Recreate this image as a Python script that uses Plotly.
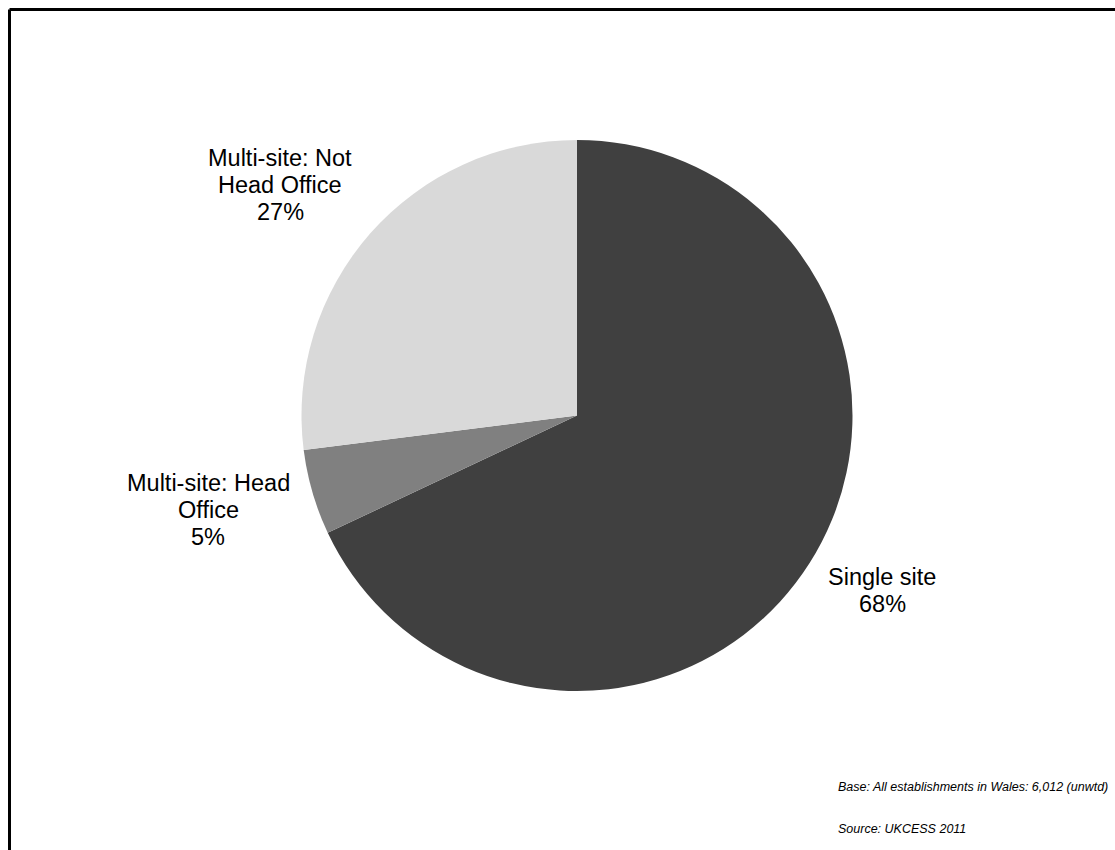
import plotly.graph_objects as go

# Establishment type breakdown
categories = ["Single site", "Multi-site: Head Office", "Multi-site: Not Head Office"]
shares = [68, 5, 27]
label_lines = [["Single site"], ["Multi-site: Head", "Office"], ["Multi-site: Not", "Head Office"]]
colors = ["#404040", "#808080", "#d9d9d9"]

base_note = "Base: All establishments in Wales: 6,012 (unwtd)"
source_note = "Source: UKCESS 2011"

W, H = 1115, 850
cx, cy, r = 577, 415.5, 275.5

fig = go.Figure(go.Pie(
    labels=categories,
    values=shares,
    sort=False,
    direction="clockwise",
    rotation=0,
    marker=dict(colors=colors, line=dict(width=0)),
    textinfo="none",
    hoverinfo="label+percent",
    showlegend=False,
    domain=dict(x=[(cx - r) / W, (cx + r) / W], y=[1 - (cy + r) / H, 1 - (cy - r) / H]),
))

# Slice labels placed outside the pie, one annotation per line for tight spacing
label_anchor = [(882, 577), (208, 483), (280, 158)]
line_step = 27
annotations = []
for lines, val, (px, py) in zip(label_lines, shares, label_anchor):
    for i, line in enumerate(lines + [f"{val}%"]):
        annotations.append(dict(
            text=line,
            x=px / W, y=1 - (py + i * line_step) / H, xref="paper", yref="paper",
            xanchor="center", yanchor="middle", showarrow=False, align="center",
            font=dict(family="Liberation Sans, Arial", size=23.5, color="#000000"),
        ))

for note, py in [(base_note, 787), (source_note, 829)]:
    annotations.append(dict(
        text=f"<i>{note}</i>",
        x=836 / W, y=1 - py / H, xref="paper", yref="paper",
        xanchor="left", yanchor="middle", showarrow=False, align="left",
        font=dict(family="Liberation Sans, Arial", size=12.5, color="#000000"),
    ))

# Frame around the chart area
shapes = [
    dict(type="line", xref="paper", yref="paper", x0=9.5 / W, x1=1.05, y0=1 - 9.5 / H, y1=1 - 9.5 / H,
         line=dict(color="#000000", width=3)),
    dict(type="line", xref="paper", yref="paper", x0=9.5 / W, x1=9.5 / W, y0=1 - 9.5 / H, y1=-0.05,
         line=dict(color="#000000", width=3)),
]

fig.update_layout(
    width=W, height=H,
    margin=dict(l=0, r=0, t=0, b=0),
    paper_bgcolor="#ffffff",
    plot_bgcolor="#ffffff",
    annotations=annotations,
    shapes=shapes,
)

fig.write_html("out.html")
